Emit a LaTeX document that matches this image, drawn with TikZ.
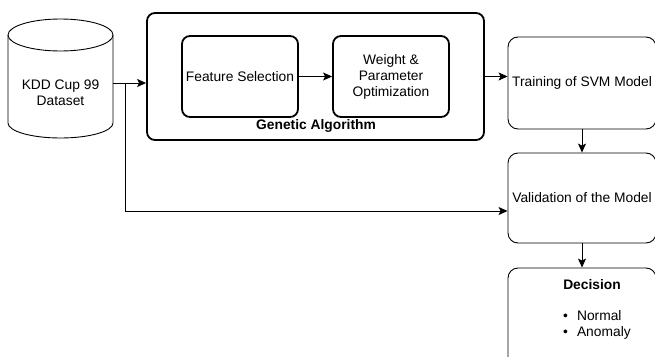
\documentclass[tikz,border=0pt]{standalone}
\usepackage{fontspec}
\setmainfont{Liberation Sans}
\usetikzlibrary{arrows.meta}
\begin{document}
\begin{tikzpicture}[x=1pt,y=-1pt,
  txt/.style={font=\fontsize{13.8}{16}\selectfont, align=center, inner sep=0pt},
  box/.style={draw, rounded corners=10pt, line width=0.9pt, txt},
  thickbox/.style={box, line width=1.8pt, rounded corners=8pt},
  arr/.style={-{Stealth[length=9pt,width=8pt,inset=2pt]}, line width=0.9pt},
  line/.style={line width=0.9pt}]
\useasboundingbox (0,0) rectangle (655,356);
\clip (0,0) rectangle (655,356);
% cylinder
\draw[line width=0.9pt] (8,35) -- (8,123) arc[start angle=180, end angle=360, x radius=52.5, y radius=-15] -- (113,35);
\draw[line width=0.9pt] (60.5,35) ellipse[x radius=52.5, y radius=16];
\node[txt, minimum width=105pt, minimum height=40pt] (db) at (60.5,93) {KDD Cup 99\\Dataset};
\coordinate (dbout) at (113,83);
% genetic algorithm
\node[thickbox, minimum width=337pt, minimum height=127pt] (ga) at (315.5,76.5) {};
\node[thickbox, minimum width=116pt, minimum height=81pt] (fs) at (240,76.5) {Feature Selection};
\node[thickbox, minimum width=116pt, minimum height=81pt] (wp) at (391,76.5) {Weight \&\\Parameter\\Optimization};
\node[txt, font=\fontsize{13.8}{16}\selectfont\bfseries] (gal) at (316,126) {Genetic Algorithm};
% right column
\node[box, minimum width=148pt, minimum height=92pt] (tr) at (582,83) {Training of SVM Model};
\node[box, minimum width=148pt, minimum height=90pt] (va) at (582,198) {Validation of the Model};
\node[box, minimum width=148pt, minimum height=110pt] (de) at (582,323) {};
\node[txt, font=\fontsize{13.8}{16}\selectfont\bfseries] (dt) at (592,285) {Decision};
\node[txt, anchor=west] (n1) at (563,316) {•\hspace{9pt}Normal};
\node[txt, anchor=west] (n2) at (563,333) {•\hspace{9pt}Anomaly};
% connectors
\coordinate (br) at (125,83);
\coordinate (brd) at (125,211);
\draw[arr] (dbout) -- (dbout -| ga.west);
\draw[line] (br) -- (brd);
\draw[arr] (brd) -- (brd -| va.west);
\draw[arr] (fs.east) -- (wp.west);
\draw[arr] (ga.east) -- (ga.east -| tr.west);
\draw[arr] (tr.south) -- (va.north);
\draw[arr] (va.south) -- (de.north);
\end{tikzpicture}
\end{document}
